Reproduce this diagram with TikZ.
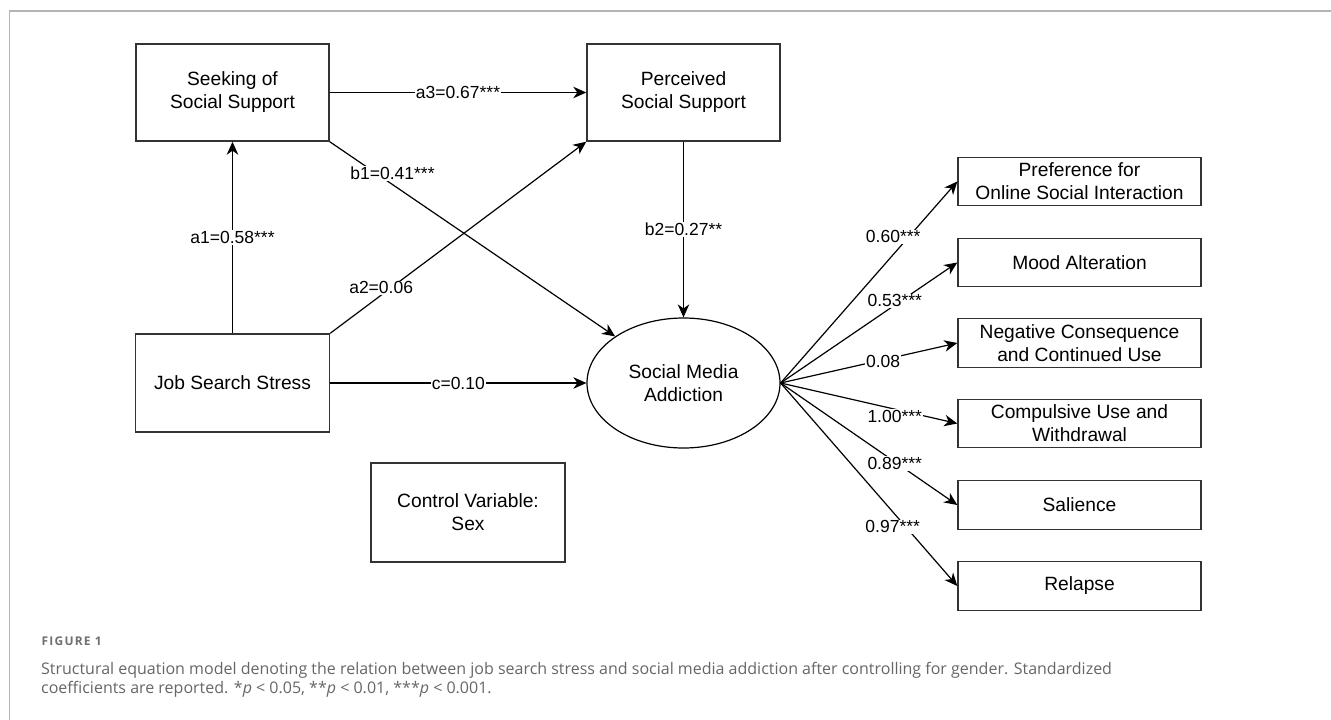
\documentclass[tikz,border=0pt]{standalone}
\usepackage{fontspec}
\setmainfont{Liberation Sans}
\newfontfamily\capfont{Open Sans}
\newfontfamily\figfont[LetterSpace=10]{Open Sans}
\usetikzlibrary{shapes.geometric,arrows.meta}
\definecolor{capgray}{HTML}{666666}
\definecolor{figgray}{HTML}{707070}
\definecolor{framegray}{HTML}{B4B4B4}
\definecolor{boxline}{HTML}{333333}
\tikzset{
  boxfont/.style={font=\fontsize{19.2}{23}\selectfont},
  box/.style={draw=boxline, line width=1.4pt, align=center, boxfont, inner sep=2pt},
  mainbox/.style={box, minimum width=193pt, minimum height=97pt},
  rbox/.style={box, minimum width=243pt, minimum height=48.5pt},
  arr/.style={draw=black, line width=1.2pt, -{Stealth[length=13pt,width=11.5pt,inset=4pt]}},
  lab/.style={fill=white, inner sep=1pt, font=\fontsize{17.5}{20}\selectfont},
  captext/.style={anchor=base west, inner sep=0pt, text=capgray, font=\capfont\fontsize{16}{19}\selectfont}
}
\begin{document}
\begin{tikzpicture}[x=1pt,y=-1pt]
\useasboundingbox (0,0) rectangle (1331,720);
\draw[framegray, line width=1.3pt] (9.5,720) -- (9.5,11) -- (1331,11);

\node[mainbox] (seek) at (232.5,92.5) {Seeking of\\Social Support};
\node[mainbox] (perc) at (683.5,92.5) {Perceived\\Social Support};
\node[mainbox, minimum width=194pt, minimum height=98pt] (job) at (232.5,383) {Job Search Stress};
\node[mainbox, minimum width=194pt, minimum height=99pt] (ctrl) at (468,512.5) {Control Variable:\\Sex};
\node[ellipse, draw=black, line width=1.2pt, align=center, boxfont, minimum width=193pt, minimum height=130pt, inner sep=0pt] (sma) at (683.5,383) {Social Media\\Addiction};

\node[rbox] (r1) at (1079.5,181.5) {Preference for\\Online Social Interaction};
\node[rbox] (r2) at (1079.5,262.5) {Mood Alteration};
\node[rbox] (r3) at (1079.5,343) {Negative Consequence\\and Continued Use};
\node[rbox] (r4) at (1079.5,423.5) {Compulsive Use and\\Withdrawal};
\node[rbox] (r5) at (1079.5,505) {Salience};
\node[rbox] (r6) at (1079.5,586) {Relapse};

\draw[arr] (seek) -- node[lab]{a3=0.67***} (perc);
\draw[arr] (job) -- node[lab]{a1=0.58***} (seek);
\draw[arr] (job.north east) -- node[lab, pos=0.238, xshift=-10pt]{a2=0.06} (perc.south west);
\draw[arr] (seek.south east) -- node[lab, pos=0.164, xshift=16pt]{b1=0.41***} (sma);
\draw[arr] (perc) -- node[lab]{b2=0.27**} (sma);
\draw[arr] (job) -- node[lab]{c=0.10} (sma);

\draw[arr] (sma.east) -- node[lab, pos=0.725, xshift=-15.5pt]{0.60***} (r1.west);
\draw[arr] (sma.east) -- node[lab, pos=0.683, xshift=-6.5pt]{0.53***} (r2.west);
\draw[arr] (sma.east) -- node[lab, pos=0.58, yshift=-2pt]{0.08} (r3.west);
\draw[arr] (sma.east) -- node[lab, pos=0.646, yshift=-7pt]{1.00***} (r4.west);
\draw[arr] (sma.east) -- node[lab, pos=0.646, yshift=-1.5pt]{0.89***} (r5.west);
\draw[arr] (sma.east) -- node[lab, pos=0.708, xshift=-13pt]{0.97***} (r6.west);

\node[anchor=base west, inner sep=0pt, text=figgray, font=\figfont\bfseries\fontsize{12}{14}\selectfont] (fig) at (41.5,645) {FIGURE 1};
\node[captext] (cap1) at (41,674) {Structural equation model denoting the relation between job search stress and social media addiction after controlling for gender. Standardized};
\node[captext] (cap2) at (41,693.3) {coefficients are reported. *\textit{p} < 0.05, **\textit{p} < 0.01, ***\textit{p} < 0.001.};
\end{tikzpicture}
\end{document}
